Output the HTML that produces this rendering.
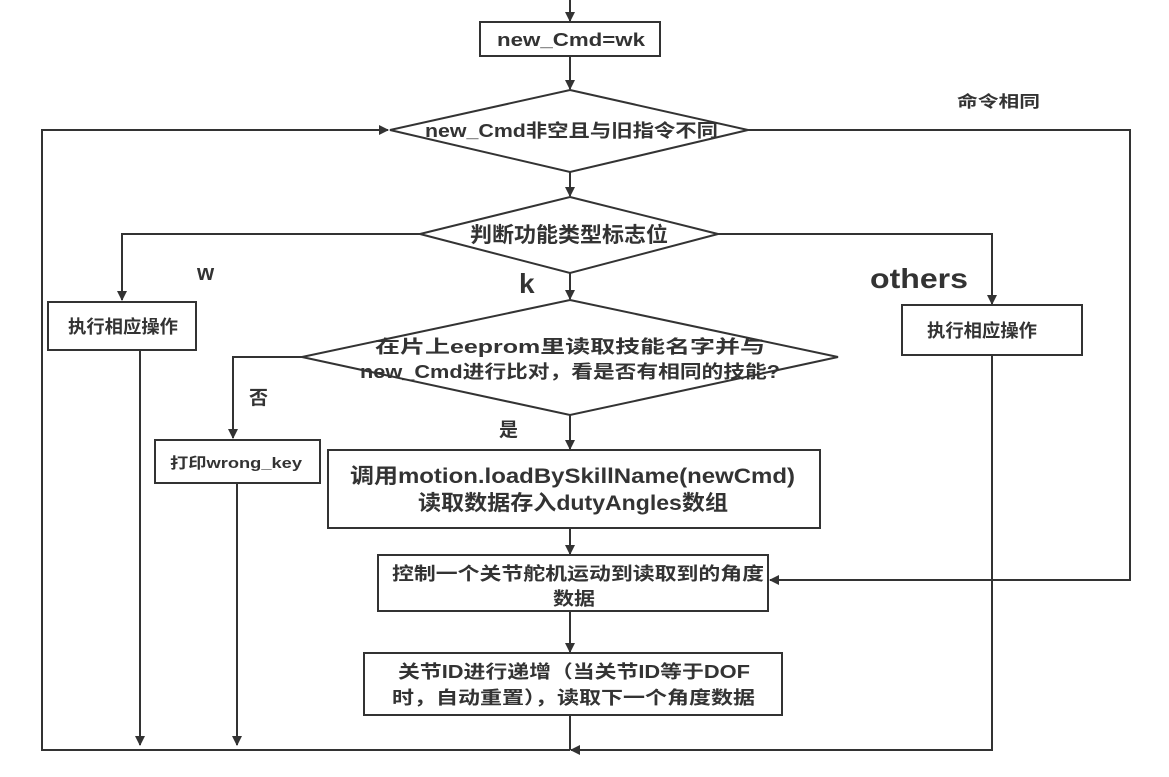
<!DOCTYPE html>
<html><head><meta charset="utf-8"><style>
html,body{margin:0;padding:0;background:#fff;}
svg{display:block;}
text{font-family:"Liberation Sans","Noto Sans CJK SC",sans-serif;font-weight:bold;fill:#333;}
</style></head><body>
<svg width="1169" height="777" viewBox="0 0 1169 777" xmlns="http://www.w3.org/2000/svg">
<defs><marker id="a" markerWidth="10" markerHeight="10" refX="9" refY="5" orient="auto" markerUnits="userSpaceOnUse"><path d="M0,0 L10,5 L0,10 z" fill="#333"/></marker></defs>
<g stroke="#333" stroke-width="2" fill="none">
<line x1="570" y1="0" x2="570" y2="21" marker-end="url(#a)"/>
<rect x="480" y="22" width="180" height="34" fill="#fff"/>
<line x1="570" y1="56" x2="570" y2="89" marker-end="url(#a)"/>
<polygon points="570,90 748,130 570,172 390,130" fill="#fff"/>
<line x1="570" y1="172" x2="570" y2="196" marker-end="url(#a)"/>
<polygon points="570,197 718,234 570,273 420,234" fill="#fff"/>
<polyline points="420,234 122,234 122,300" marker-end="url(#a)"/>
<rect x="48" y="302" width="148" height="48" fill="#fff"/>
<polyline points="718,234 992,234 992,304" marker-end="url(#a)"/>
<rect x="902" y="305" width="180" height="50" fill="#fff"/>
<line x1="570" y1="273" x2="570" y2="299" marker-end="url(#a)"/>
<polygon points="570,300 838,357 570,415 302,357" fill="#fff"/>
<polyline points="302,357 233,357 233,438" marker-end="url(#a)"/>
<rect x="155" y="440" width="165" height="43" fill="#fff"/>
<line x1="570" y1="415" x2="570" y2="449" marker-end="url(#a)"/>
<rect x="328" y="450" width="492" height="78" fill="#fff"/>
<line x1="570" y1="528" x2="570" y2="554" marker-end="url(#a)"/>
<rect x="378" y="555" width="390" height="56" fill="#fff"/>
<line x1="570" y1="611" x2="570" y2="652" marker-end="url(#a)"/>
<rect x="364" y="653" width="418" height="62" fill="#fff"/>
<line x1="570" y1="715" x2="570" y2="750"/>
<polyline points="570,750 42,750 42,130 388,130" marker-end="url(#a)"/>
<line x1="140" y1="350" x2="140" y2="745" marker-end="url(#a)"/>
<line x1="237" y1="483" x2="237" y2="745" marker-end="url(#a)"/>
<polyline points="992,355 992,750 571,750" marker-end="url(#a)"/>
<polyline points="748,130 1130,130 1130,580 770,580" marker-end="url(#a)"/>
</g>
<g font-size="18" lengthAdjust="spacingAndGlyphs">
<text x="497" y="46" textLength="148" lengthAdjust="spacingAndGlyphs">new_Cmd=wk</text>
<text x="425" y="137" textLength="293" lengthAdjust="spacingAndGlyphs">new_Cmd非空且与旧指令不同</text>
<text x="470" y="242" font-size="21" textLength="198" lengthAdjust="spacingAndGlyphs">判断功能类型标志位</text>
<text x="68" y="333" textLength="110" lengthAdjust="spacingAndGlyphs">执行相应操作</text>
<text x="927" y="337" textLength="110" lengthAdjust="spacingAndGlyphs">执行相应操作</text>
<text x="375" y="353" textLength="390" lengthAdjust="spacingAndGlyphs">在片上eeprom里读取技能名字并与</text>
<text x="360" y="378" textLength="420" lengthAdjust="spacingAndGlyphs">new_Cmd进行比对，看是否有相同的技能?</text>
<text x="170" y="468" font-size="15" textLength="132" lengthAdjust="spacingAndGlyphs">打印wrong_key</text>
<text x="350" y="483" font-size="21" textLength="445" lengthAdjust="spacingAndGlyphs">调用motion.loadBySkillName(newCmd)</text>
<text x="418" y="510" font-size="21" textLength="310" lengthAdjust="spacingAndGlyphs">读取数据存入dutyAngles数组</text>
<text x="392" y="580" textLength="372" lengthAdjust="spacingAndGlyphs">控制一个关节舵机运动到读取到的角度</text>
<text x="553" y="605" textLength="42" lengthAdjust="spacingAndGlyphs">数据</text>
<text x="398" y="678" textLength="352" lengthAdjust="spacingAndGlyphs">关节ID进行递增（当关节ID等于DOF</text>
<text x="392" y="704" textLength="363" lengthAdjust="spacingAndGlyphs">时，自动重置），读取下一个角度数据</text>
<text x="957" y="107" font-size="16" textLength="83" lengthAdjust="spacingAndGlyphs">命令相同</text>
<text x="197" y="280" font-size="22">w</text>
<text x="519" y="293" font-size="28">k</text>
<text x="870" y="288" font-size="28" textLength="98" lengthAdjust="spacingAndGlyphs">others</text>
<text x="249" y="404" font-size="19">否</text>
<text x="499" y="436" font-size="19">是</text>
</g>
</svg>
</body></html>
